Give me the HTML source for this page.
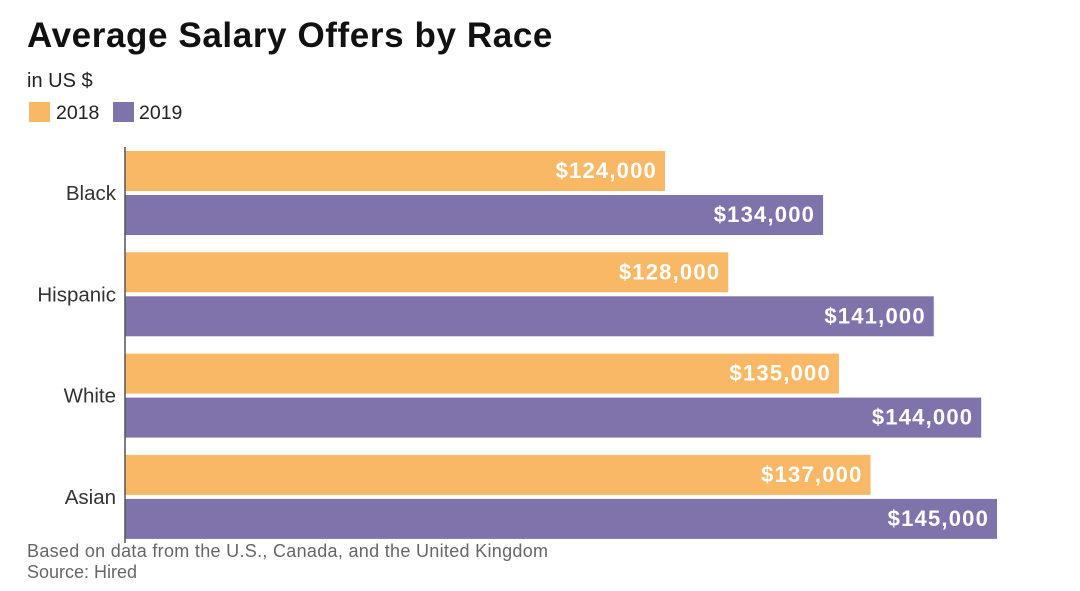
<!DOCTYPE html>
<html><head><meta charset="utf-8"><style>
body{margin:0;background:#fff;width:1080px;height:586px;overflow:hidden;font-family:"Liberation Sans",sans-serif;}
</style></head><body>
<svg width="1080" height="586" id="c">
<text x="27" y="47" font-size="35" font-weight="bold" fill="#111" letter-spacing="0.6" textLength="526">Average Salary Offers by Race</text>
<text x="27" y="87" font-size="20" fill="#222">in US $</text>
<g><rect x="29" y="102" width="21" height="20" fill="#f9b865"/><text x="56" y="119" font-size="19.5" fill="#222">2018</text></g>
<g><rect x="113" y="102" width="21" height="20" fill="#8073ac"/><text x="139" y="119" font-size="19.5" fill="#222">2019</text></g>
<g id="bars"></g>
<line x1="125" y1="147" x2="125" y2="543" stroke="#555" stroke-width="1.5"/>
<text x="27" y="557" font-size="18" fill="#666" textLength="521">Based on data from the U.S., Canada, and the United Kingdom</text>
<text x="27" y="578" font-size="18" fill="#666">Source: Hired</text>
</svg>
<script>
const categories=["Black","Hispanic","White","Asian"];
const values2018=[124000,128000,135000,137000];
const values2019=[134000,141000,144000,145000];
const labels2018=["$124,000","$128,000","$135,000","$137,000"];
const labels2019=["$134,000","$141,000","$144,000","$145,000"];
const x0=125,v0=89844,k=0.01581;
function xs(v){return x0+(v-v0)*k;}
function ys(i){return 151+i*101.3;}
const g=document.getElementById('bars');const ns="http://www.w3.org/2000/svg";
function bar(y,v,lab,col,name){
 const r=document.createElementNS(ns,'rect');
 r.setAttribute('x',x0);r.setAttribute('y',y);r.setAttribute('width',xs(v)-x0);r.setAttribute('height',40);r.setAttribute('fill',col);
 
 
 g.appendChild(r);
 const t=document.createElementNS(ns,'text');
 t.setAttribute('x',xs(v)-8);t.setAttribute('y',y+27);t.setAttribute('text-anchor','end');t.setAttribute('font-size','22');t.setAttribute('font-weight','bold');t.setAttribute('fill','#fff');t.setAttribute('letter-spacing','1.2');
 t.textContent=lab;
 
 
 g.appendChild(t);
}
categories.forEach((c,i)=>{
 const y=ys(i);
 bar(y,values2018[i],labels2018[i],'#f9b865','bar-2018-'+c.toLowerCase());
 bar(y+44,values2019[i],labels2019[i],'#8073ac','bar-2019-'+c.toLowerCase());
 const t=document.createElementNS(ns,'text');
 t.setAttribute('x',116);t.setAttribute('y',y+49);t.setAttribute('text-anchor','end');t.setAttribute('font-size','20.5');t.setAttribute('fill','#333');
 t.textContent=c;
 
 
 g.appendChild(t);
});
</script>
</body></html>
